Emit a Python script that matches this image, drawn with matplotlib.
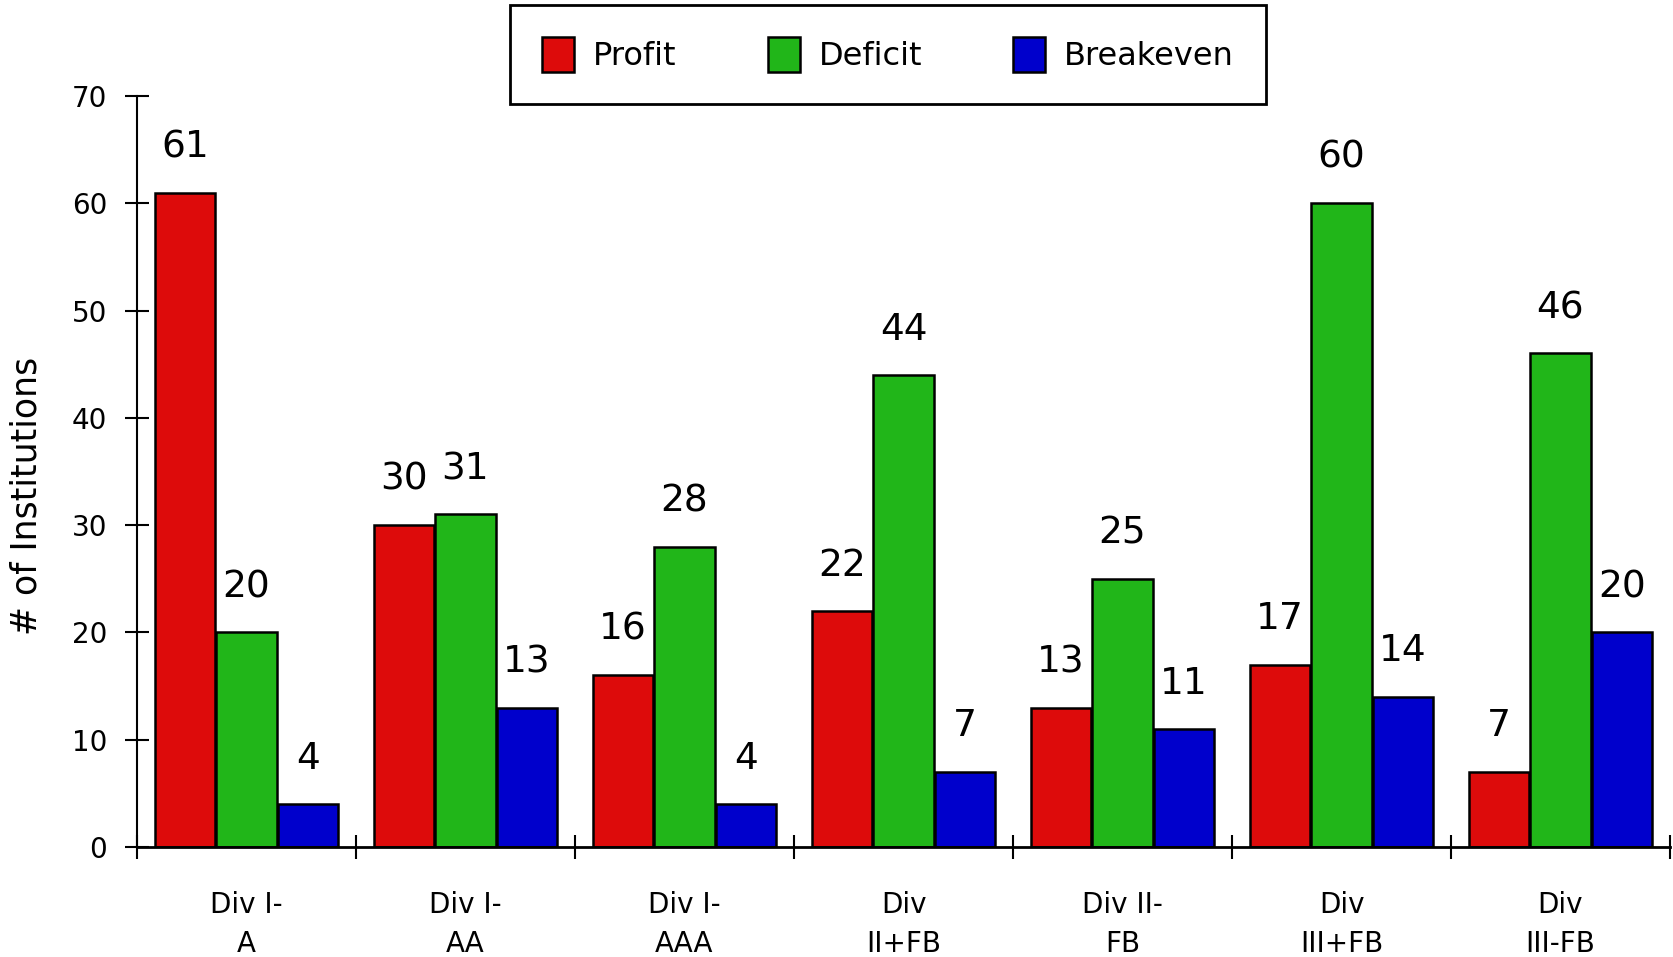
import numpy as np
import matplotlib.pyplot as plt

divisions = ["Div I-\nA", "Div I-\nAA", "Div I-\nAAA", "Div\nII+FB",
             "Div II-\nFB", "Div\nIII+FB", "Div\nIII-FB"]
profit = [61, 30, 16, 22, 13, 17, 7]
deficit = [20, 31, 28, 44, 25, 60, 46]
breakeven = [4, 13, 4, 7, 11, 14, 20]

series = [("Profit", profit, "#DD0B0B"),
          ("Deficit", deficit, "#21B619"),
          ("Breakeven", breakeven, "#0000CC")]

plt.rcParams['font.family'] = ['DejaVu Sans']

fig = plt.figure(figsize=(16.73, 9.57), dpi=100)
ax = fig.add_axes([137/1673, 1 - 847/957, (1670 - 137)/1673, (847 - 96)/957])

x = np.arange(len(divisions))
w = 0.275
for i, (name, vals, col) in enumerate(series):
    pos = x + (i - 1) * (w + 0.005)
    ax.bar(pos, vals, width=w, color=col, edgecolor='black', linewidth=1.8,
           label=name, zorder=2)
    for p, v in zip(pos, vals):
        ax.text(p, v + 3.3, str(v), ha='center', va='baseline', fontsize=27)

ax.set_xlim(-0.5, len(divisions) - 0.5)
ax.set_ylim(0, 70)
ax.set_yticks(range(0, 71, 10))
ax.set_xticks(x)
ax.set_xticklabels(divisions, fontsize=20, linespacing=1.48)
ax.set_xticks(np.arange(-0.5, len(divisions)), minor=True)

ax.tick_params(axis='x', which='major', length=0, pad=32)
ax.tick_params(axis='x', which='minor', direction='inout', length=17, width=1.5)
ax.tick_params(axis='y', direction='inout', length=17, width=1.5, labelsize=20, pad=13)

for s in ['top', 'right']:
    ax.spines[s].set_visible(False)
ax.spines['left'].set_linewidth(1.5)
ax.spines['bottom'].set_linewidth(2)
ax.spines['bottom'].set_zorder(3)

fig.text(27/1673, 1 - 496/957, "# of Institutions", rotation=90,
         ha='center', va='center', fontsize=25)

leg = ax.legend(ncol=3, loc='upper left', bbox_to_anchor=(510/1673, 1 - 5/957),
                bbox_transform=fig.transFigure, fontsize=23, frameon=True,
                fancybox=False, edgecolor='black', framealpha=1,
                handlelength=1.0, handleheight=1.3, handletextpad=0.6,
                columnspacing=2.85, borderpad=1.0, borderaxespad=0)
leg.get_frame().set_linewidth(2)

fig.savefig("out.png", dpi=100)
